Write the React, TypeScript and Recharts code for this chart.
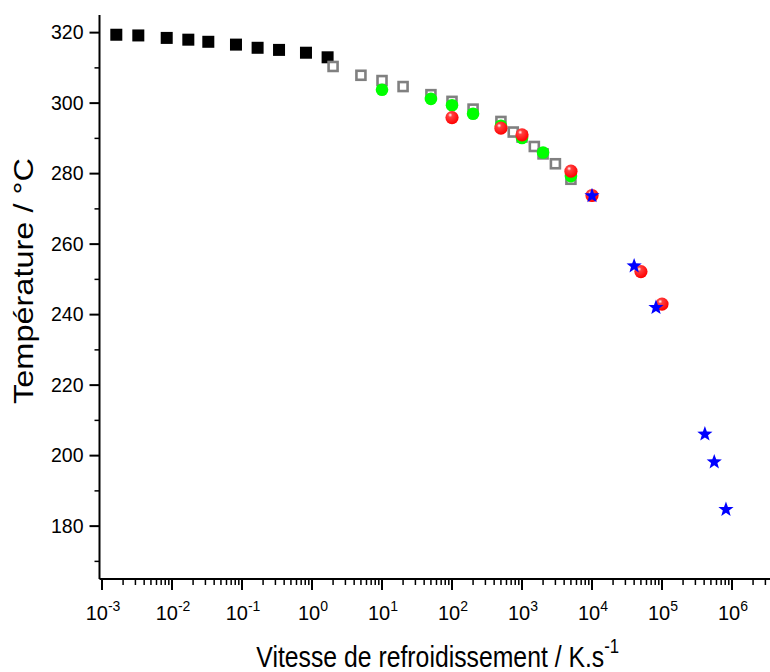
import { Scatter, ScatterChart, XAxis, YAxis } from 'recharts'

// cooling rate (K/s) vs temperature (°C)
const BLACK_SQUARES = [
  { x: 0.0016, y: 319.4 },
  { x: 0.0033, y: 319.2 },
  { x: 0.0084, y: 318.5 },
  { x: 0.0171, y: 318.0 },
  { x: 0.033, y: 317.4 },
  { x: 0.082, y: 316.6 },
  { x: 0.167, y: 315.7 },
  { x: 0.338, y: 315.1 },
  { x: 0.82, y: 314.3 },
  { x: 1.67, y: 313.0 },
]

const OPEN_SQUARES = [
  { x: 2, y: 310.4 },
  { x: 5, y: 307.9 },
  { x: 10, y: 306.4 },
  { x: 20, y: 304.7 },
  { x: 50, y: 302.4 },
  { x: 100, y: 300.5 },
  { x: 200, y: 298.3 },
  { x: 500, y: 294.8 },
  { x: 750, y: 291.8 },
  { x: 1000, y: 290.4 },
  { x: 1500, y: 287.7 },
  { x: 2000, y: 285.6 },
  { x: 3000, y: 282.8 },
  { x: 5000, y: 278.4 },
]

const GREEN_DOTS = [
  { x: 10, y: 303.8 },
  { x: 50, y: 301.2 },
  { x: 100, y: 299.4 },
  { x: 200, y: 297.0 },
  { x: 500, y: 293.6 },
  { x: 1000, y: 290.1 },
  { x: 2000, y: 286.0 },
  { x: 5000, y: 279.3 },
]

const RED_BALLS = [
  { x: 100, y: 295.9 },
  { x: 500, y: 292.9 },
  { x: 1000, y: 291.0 },
  { x: 5000, y: 280.7 },
  { x: 10000, y: 273.8 },
  { x: 50000, y: 252.2 },
  { x: 100000, y: 243.0 },
]

const BLUE_STARS = [
  { x: 10000, y: 273.7 },
  { x: 40000, y: 253.8 },
  { x: 82000, y: 242.0 },
  { x: 410000, y: 206.1 },
  { x: 558000, y: 198.2 },
  { x: 820000, y: 184.7 },
]

const DECADES = [-3, -2, -1, 0, 1, 2, 3, 4, 5, 6]
const MINOR_STEPS = [2, 3, 4, 5, 6, 7, 8, 9]
const Y_TICKS = [170, 180, 190, 200, 210, 220, 230, 240, 250, 260, 270, 280, 290, 300, 310, 320]

const X_MIN = Math.pow(10, -3.036)
const X_MAX = Math.pow(10, 6.543)

const X_TICKS = DECADES.flatMap((d) => [
  Math.pow(10, d),
  ...MINOR_STEPS.map((m) => m * Math.pow(10, d)),
]).filter((v) => v >= X_MIN && v <= X_MAX)

const FONT = '"Liberation Sans", Arial, sans-serif'

function isDecade(v: number) {
  const l = Math.log10(v)
  return Math.abs(l - Math.round(l)) < 1e-6
}

function XTick(props: any) {
  const { x, y, payload } = props
  const v = payload.value
  if (!isDecade(v)) {
    return <line x1={x} x2={x} y1={y} y2={y + 6} stroke="#000" strokeWidth={1.5} />
  }
  const exp = Math.round(Math.log10(v))
  return (
    <g>
      <line x1={x} x2={x} y1={y} y2={y + 11} stroke="#000" strokeWidth={2} />
      <text x={x + 1} y={y + 41} textAnchor="middle" fontSize={20} fontFamily={FONT} fill="#000">
        10
        <tspan dy={-9} fontSize={14}>
          {exp}
        </tspan>
      </text>
    </g>
  )
}

function YTick(props: any) {
  const { x, y, payload } = props
  const v = payload.value
  if (v % 20 !== 0) {
    return <line x1={x - 5} x2={x} y1={y} y2={y} stroke="#000" strokeWidth={1.5} />
  }
  return (
    <g>
      <line x1={x - 10} x2={x} y1={y} y2={y} stroke="#000" strokeWidth={2} />
      <text x={x - 16} y={y} dy="0.35em" textAnchor="end" fontSize={19.5} fontFamily={FONT} fill="#000">
        {v}
      </text>
    </g>
  )
}

function XTitle(props: any) {
  const vb = props.viewBox
  const cx = vb.x + vb.width / 2 + 3
  return (
    <text
      transform={`translate(${cx},667) scale(0.84,1)`}
      textAnchor="middle"
      fontSize={29.5}
      fontFamily={FONT}
      fill="#000"
    >
      Vitesse de refroidissement / K.s
      <tspan dy={-14} fontSize={20}>
        -1
      </tspan>
    </text>
  )
}

function YTitle() {
  return (
    <text
      transform="translate(33,281) rotate(-90) scale(1,0.84)"
      textAnchor="middle"
      fontSize={32.5}
      fontFamily={FONT}
      fill="#000"
    >
      Température / °C
    </text>
  )
}

const BlackSquare = (p: any) => (
  <rect x={p.cx - 6} y={p.cy - 6} width={12} height={12} fill="#000" />
)

const OpenSquare = (p: any) => (
  <rect x={p.cx - 4.5} y={p.cy - 4.5} width={9} height={9} fill="#fff" stroke="#808080" strokeWidth={2.6} />
)

const GreenDot = (p: any) => <circle cx={p.cx} cy={p.cy} r={6.3} fill="#00ff00" />

const RedBall = (p: any) => (
  <g>
    <defs>
      <radialGradient id="redBall" cx="0.4" cy="0.35" r="0.65" fx="0.36" fy="0.3">
        <stop offset="0" stopColor="#ffffff" />
        <stop offset="0.25" stopColor="#ff4040" />
        <stop offset="1" stopColor="#ff0000" />
      </radialGradient>
    </defs>
    <circle cx={p.cx} cy={p.cy} r={6.6} fill="url(#redBall)" />
  </g>
)

const BlueStar = (p: any) => {
  const pts: string[] = []
  for (let i = 0; i < 10; i++) {
    const r = i % 2 === 0 ? 8 : 3.3
    const a = -Math.PI / 2 + (i * Math.PI) / 5
    pts.push(`${p.cx + r * Math.cos(a)},${p.cy + r * Math.sin(a)}`)
  }
  return <polygon points={pts.join(' ')} fill="#0000ff" />
}

export default function App() {
  return (
    <div style={{ width: 770, height: 672, background: '#fff' }}>
      <style>{'body{margin:0;}'}</style>
      <ScatterChart width={770} height={672} margin={{ top: 15, right: 0, bottom: 0, left: 0 }}>
        <XAxis
          xAxisId="b"
          type="number"
          dataKey="x"
          scale="log"
          domain={[X_MIN, X_MAX]}
          allowDataOverflow
          ticks={X_TICKS}
          interval={0}
          tickLine={false}
          tickSize={0}
          tickMargin={0}
          tick={<XTick />}
          axisLine={{ stroke: '#000', strokeWidth: 2 }}
          height={93}
          label={{ content: XTitle }}
        />
        <XAxis
          xAxisId="t"
          orientation="top"
          type="number"
          dataKey="x"
          scale="log"
          domain={[X_MIN, X_MAX]}
          allowDataOverflow
          ticks={X_TICKS}
          interval={0}
          tick={false}
          tickSize={3}
          tickLine={{ stroke: '#000', strokeWidth: 1 }}
          axisLine={{ stroke: '#000', strokeWidth: 2 }}
          height={0}
        />
        <YAxis
          type="number"
          dataKey="y"
          domain={[165, 325]}
          allowDataOverflow
          ticks={Y_TICKS}
          interval={0}
          tickLine={false}
          tickSize={0}
          tickMargin={0}
          tick={<YTick />}
          axisLine={{ stroke: '#000', strokeWidth: 2 }}
          width={99.5}
          label={{ content: YTitle }}
        />
        <Scatter xAxisId="b" data={BLACK_SQUARES} shape={BlackSquare} isAnimationActive={false} />
        <Scatter xAxisId="b" data={OPEN_SQUARES} shape={OpenSquare} isAnimationActive={false} />
        <Scatter xAxisId="b" data={GREEN_DOTS} shape={GreenDot} isAnimationActive={false} />
        <Scatter xAxisId="b" data={RED_BALLS} shape={RedBall} isAnimationActive={false} />
        <Scatter xAxisId="b" data={BLUE_STARS} shape={BlueStar} isAnimationActive={false} />
      </ScatterChart>
    </div>
  )
}
